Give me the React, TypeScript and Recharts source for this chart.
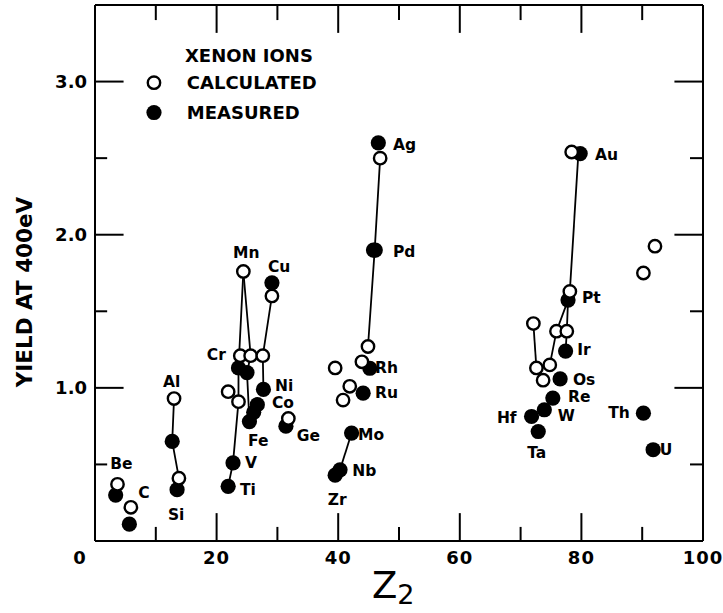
import { ScatterChart, Scatter, XAxis, YAxis, ReferenceLine } from 'recharts'

const FONT = '"DejaVu Sans", "Liberation Sans", sans-serif'

// yield values (open circles)
const calculated = [
  { z: 3.7, y: 0.37 },
  { z: 5.9, y: 0.22 },
  { z: 13.0, y: 0.93 },
  { z: 13.8, y: 0.41 },
  { z: 21.9, y: 0.975 },
  { z: 23.6, y: 0.91 },
  { z: 23.9, y: 1.21 },
  { z: 25.6, y: 1.21 },
  { z: 27.6, y: 1.21 },
  { z: 24.4, y: 1.76 },
  { z: 29.1, y: 1.6 },
  { z: 31.8, y: 0.8 },
  { z: 39.5, y: 1.13 },
  { z: 40.8, y: 0.92 },
  { z: 41.9, y: 1.01 },
  { z: 43.9, y: 1.17 },
  { z: 44.9, y: 1.27 },
  { z: 46.9, y: 2.5 },
  { z: 72.1, y: 1.42 },
  { z: 72.6, y: 1.13 },
  { z: 73.7, y: 1.05 },
  { z: 74.8, y: 1.15 },
  { z: 75.9, y: 1.37 },
  { z: 77.6, y: 1.37 },
  { z: 78.1, y: 1.63 },
  { z: 78.4, y: 2.54 },
  { z: 90.2, y: 1.75 },
  { z: 92.1, y: 1.925 }
]

// filled circles
const measured = [
  { z: 3.4, y: 0.3 },
  { z: 5.65, y: 0.11 },
  { z: 12.7, y: 0.65 },
  { z: 13.5, y: 0.335 },
  { z: 21.9, y: 0.357 },
  { z: 22.7, y: 0.51 },
  { z: 23.6, y: 1.13 },
  { z: 25.0, y: 1.1 },
  { z: 25.4, y: 0.78 },
  { z: 26.1, y: 0.84 },
  { z: 26.7, y: 0.89 },
  { z: 27.7, y: 0.99 },
  { z: 29.1, y: 1.686 },
  { z: 31.4, y: 0.75 },
  { z: 39.5, y: 0.43 },
  { z: 40.3, y: 0.465 },
  { z: 42.2, y: 0.705 },
  { z: 44.1, y: 0.965 },
  { z: 45.2, y: 1.128 },
  { z: 45.8, y: 1.9 },
  { z: 46.1, y: 1.9 },
  { z: 46.6, y: 2.6 },
  { z: 71.8, y: 0.813 },
  { z: 72.9, y: 0.715 },
  { z: 73.9, y: 0.857 },
  { z: 75.3, y: 0.933 },
  { z: 76.5, y: 1.058 },
  { z: 77.4, y: 1.24 },
  { z: 77.8, y: 1.573 },
  { z: 79.8, y: 2.53 },
  { z: 90.2, y: 0.835 },
  { z: 91.8, y: 0.596 }
]

// connecting lines drawn in the figure
const links = [
  [{ z: 13.0, y: 0.93 }, { z: 12.7, y: 0.65 }, { z: 13.8, y: 0.41 }],
  [{ z: 24.4, y: 1.76 }, { z: 23.6, y: 1.13 }, { z: 23.6, y: 0.91 }, { z: 22.7, y: 0.51 }, { z: 21.9, y: 0.357 }],
  [{ z: 24.4, y: 1.76 }, { z: 25.6, y: 1.21 }, { z: 25.0, y: 1.1 }, { z: 25.4, y: 0.78 }],
  [{ z: 29.1, y: 1.6 }, { z: 27.6, y: 1.21 }, { z: 27.7, y: 0.99 }],
  [{ z: 46.9, y: 2.5 }, { z: 46.0, y: 1.9 }, { z: 44.9, y: 1.27 }],
  [{ z: 42.2, y: 0.705 }, { z: 40.3, y: 0.465 }],
  [{ z: 79.5, y: 2.53 }, { z: 78.1, y: 1.63 }],
  [{ z: 72.1, y: 1.42 }, { z: 72.6, y: 1.13 }],
  [{ z: 77.8, y: 1.573 }, { z: 75.9, y: 1.37 }, { z: 74.8, y: 1.15 }],
  [{ z: 77.8, y: 1.573 }, { z: 77.6, y: 1.37 }, { z: 77.4, y: 1.24 }]
]

const elementLabels = [
  { name: 'Be', z: 2.5, y: 0.5 },
  { name: 'C', z: 7.1, y: 0.316 },
  { name: 'Al', z: 11.2, y: 1.04 },
  { name: 'Si', z: 12.0, y: 0.173 },
  { name: 'Cr', z: 18.4, y: 1.215 },
  { name: 'Mn', z: 22.7, y: 1.88 },
  { name: 'Cu', z: 28.45, y: 1.788 },
  { name: 'Ni', z: 29.6, y: 1.01 },
  { name: 'Co', z: 29.1, y: 0.9 },
  { name: 'Fe', z: 25.16, y: 0.65 },
  { name: 'Ge', z: 33.2, y: 0.683 },
  { name: 'V', z: 24.67, y: 0.511 },
  { name: 'Ti', z: 23.85, y: 0.335 },
  { name: 'Zr', z: 38.3, y: 0.27 },
  { name: 'Nb', z: 42.3, y: 0.455 },
  { name: 'Mo', z: 43.26, y: 0.694 },
  { name: 'Ru', z: 46.05, y: 0.965 },
  { name: 'Rh', z: 46.05, y: 1.128 },
  { name: 'Pd', z: 49.0, y: 1.888 },
  { name: 'Ag', z: 49.0, y: 2.583 },
  { name: 'Au', z: 82.24, y: 2.518 },
  { name: 'Pt', z: 80.1, y: 1.586 },
  { name: 'Ir', z: 79.3, y: 1.248 },
  { name: 'Os', z: 78.6, y: 1.05 },
  { name: 'Re', z: 77.8, y: 0.94 },
  { name: 'W', z: 76.1, y: 0.813 },
  { name: 'Hf', z: 66.1, y: 0.8 },
  { name: 'Ta', z: 71.1, y: 0.576 },
  { name: 'Th', z: 84.4, y: 0.837 },
  { name: 'U', z: 92.9, y: 0.596 }
]

// key box in the upper left of the plot
const legendOpen = [{ z: 9.7, y: 2.993 }]
const legendFilled = [{ z: 9.7, y: 2.798 }]
const legendTexts = [
  { name: 'XENON IONS', z: 14.8, y: 3.17 },
  { name: 'CALCULATED', z: 15.1, y: 2.993 },
  { name: 'MEASURED', z: 15.1, y: 2.798 }
]

const xTicks = [0, 20, 40, 60, 80, 100]
const yTicks = [1, 2, 3]
const xMarks = [10, 20, 30, 40, 50, 60, 70, 80, 90]
const yMarks = [0.5, 1, 1.5, 2, 2.5, 3]

const X_MIN = 0
const X_MAX = 100
const Y_MIN = 0
const Y_MAX = 3.5

// inward tick lengths, in axis units (major / minor)
const VTICK = { major: 0.182, minor: 0.092 }
const HTICK = { major: 4.7, minor: 2.0 }

const OpenDot = (props: any) => {
  const { cx, cy } = props
  if (cx == null) return <g />
  return <circle cx={cx} cy={cy} r={6.2} fill="#fff" stroke="#000" strokeWidth={2.4} />
}

const FilledDot = (props: any) => {
  const { cx, cy } = props
  if (cx == null) return <g />
  return <circle cx={cx} cy={cy} r={7.6} fill="#000" />
}

const NoDot = () => <g />

const ElementText = (props: any) => {
  const { cx, cy, payload } = props
  if (cx == null) return <g />
  return (
    <text x={cx} y={cy} dominantBaseline="central" fontFamily={FONT} fontWeight="bold" fontSize={15.5} fill="#000">
      {payload?.name}
    </text>
  )
}

const LegendText = (props: any) => {
  const { cx, cy, payload } = props
  if (cx == null) return <g />
  return (
    <text x={cx} y={cy} dominantBaseline="central" fontFamily={FONT} fontWeight="bold" fontSize={18} fill="#000">
      {payload?.name}
    </text>
  )
}

const BottomTick = ({ x, y, payload }: any) => {
  const v = payload.value
  return (
    <text x={v === 0 ? x - 15 : x} y={y + 16} textAnchor="middle" dominantBaseline="central"
      fontFamily={FONT} fontWeight="bold" fontSize={18} letterSpacing={1} fill="#000">
      {v}
    </text>
  )
}

const LeftTick = ({ x, y, payload }: any) => (
  <text x={x - 8} y={y} textAnchor="end" dominantBaseline="central"
    fontFamily={FONT} fontWeight="bold" fontSize={18} fill="#000">
    {payload.value.toFixed(1)}
  </text>
)

export default function App() {
  return (
    <div style={{ position: 'absolute', left: 0, top: 0, background: '#fff' }}>
      <ScatterChart width={723} height={613} margin={{ top: 5, right: 20, bottom: 0, left: 0 }}>
        <XAxis
          xAxisId="bottom"
          dataKey="z"
          type="number"
          domain={[X_MIN, X_MAX]}
          ticks={xTicks}
          height={72}
          tickSize={0}
          tickMargin={0}
          axisLine={{ stroke: '#000', strokeWidth: 2 }}
          tickLine={false}
          tick={<BottomTick />}
          label={{
            content: () => (
              <text x={372} y={598} fontFamily={FONT} fill="#000">
                <tspan fontSize={37}>Z</tspan>
                <tspan fontSize={27} dy={6}>2</tspan>
              </text>
            )
          }}
        />
        <YAxis
          yAxisId="left"
          dataKey="y"
          type="number"
          domain={[Y_MIN, Y_MAX]}
          ticks={yTicks}
          width={95}
          tickSize={0}
          tickMargin={0}
          axisLine={{ stroke: '#000', strokeWidth: 2 }}
          tickLine={false}
          tick={<LeftTick />}
          label={{
            content: () => (
              <text x={24} y={292} transform="rotate(-90 24 292)" textAnchor="middle" dominantBaseline="central"
                fontFamily={FONT} fontWeight="bold" fontSize={21.5} fill="#000">
                YIELD AT 400eV
              </text>
            )
          }}
        />
        <ReferenceLine xAxisId="bottom" yAxisId="left" x={X_MAX} stroke="#000" strokeWidth={2} />
        <ReferenceLine xAxisId="bottom" yAxisId="left" y={Y_MAX} stroke="#000" strokeWidth={2} />
        {xMarks.map((v) => (
          <ReferenceLine key={'b' + v} xAxisId="bottom" yAxisId="left" stroke="#000" strokeWidth={2}
            segment={[{ x: v, y: Y_MIN }, { x: v, y: Y_MIN + (v % 20 === 0 ? VTICK.major : VTICK.minor) }]} />
        ))}
        {xMarks.map((v) => (
          <ReferenceLine key={'t' + v} xAxisId="bottom" yAxisId="left" stroke="#000" strokeWidth={2}
            segment={[{ x: v, y: Y_MAX }, { x: v, y: Y_MAX - (v % 20 === 0 ? VTICK.major : VTICK.minor * 1.07) }]} />
        ))}
        {yMarks.map((v) => (
          <ReferenceLine key={'l' + v} xAxisId="bottom" yAxisId="left" stroke="#000" strokeWidth={2}
            segment={[{ x: X_MIN, y: v }, { x: X_MIN + (Number.isInteger(v) ? HTICK.major : HTICK.minor), y: v }]} />
        ))}
        {yMarks.map((v) => (
          <ReferenceLine key={'r' + v} xAxisId="bottom" yAxisId="left" stroke="#000" strokeWidth={2}
            segment={[{ x: X_MAX, y: v }, { x: X_MAX - (Number.isInteger(v) ? HTICK.major : HTICK.minor * 1.07), y: v }]} />
        ))}
        {links.map((pts, i) => (
          <Scatter
            key={'link' + i}
            xAxisId="bottom"
            yAxisId="left"
            data={pts}
            line={{ stroke: '#000', strokeWidth: 1.8 }}
            shape={<NoDot />}
            isAnimationActive={false}
          />
        ))}
        <Scatter name="MEASURED" xAxisId="bottom" yAxisId="left" data={measured} shape={<FilledDot />} isAnimationActive={false} />
        <Scatter name="CALCULATED" xAxisId="bottom" yAxisId="left" data={calculated} shape={<OpenDot />} isAnimationActive={false} />
        <Scatter xAxisId="bottom" yAxisId="left" data={elementLabels} shape={<ElementText />} isAnimationActive={false} />
        <Scatter xAxisId="bottom" yAxisId="left" data={legendOpen} shape={<OpenDot />} isAnimationActive={false} />
        <Scatter xAxisId="bottom" yAxisId="left" data={legendFilled} shape={<FilledDot />} isAnimationActive={false} />
        <Scatter xAxisId="bottom" yAxisId="left" data={legendTexts} shape={<LegendText />} isAnimationActive={false} />
      </ScatterChart>
    </div>
  )
}
